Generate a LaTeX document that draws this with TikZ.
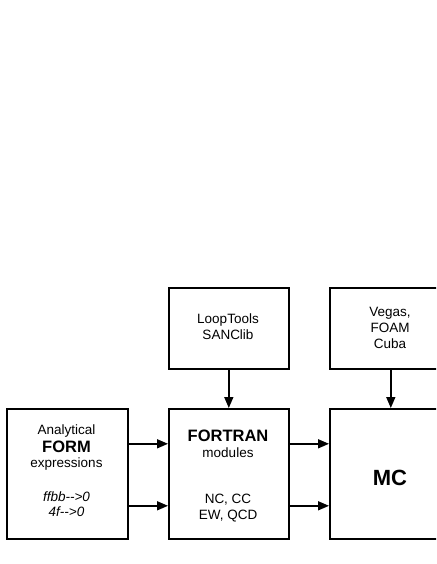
\documentclass[tikz,border=0pt]{standalone}
\usepackage{fontspec}
\setmainfont{Liberation Sans}
\usetikzlibrary{arrows.meta}
\begin{document}
\begin{tikzpicture}[x=1pt,y=-1pt,
  box/.style={draw,line width=1.6pt,anchor=north west,inner sep=0pt},
  conn/.style={line width=1.6pt,-{Triangle[length=11pt,width=9pt]}},
  txt/.style={font=\fontsize{13.5}{16}\selectfont,align=center,inner sep=0pt},
  big/.style={font=\fontsize{16.5}{18}\selectfont\bfseries,inner sep=0pt}]
\useasboundingbox (0,0) rectangle (436,564);
\clip (0,0) rectangle (436,564);
% boxes
\node[box,minimum width=121pt,minimum height=130pt] (ana) at (6,408) {};
\node[box,minimum width=120pt,minimum height=130pt] (fort) at (168,408) {};
\node[box,minimum width=122pt,minimum height=130pt] (mc) at (329,408) {};
\node[box,minimum width=120pt,minimum height=81pt] (loop) at (168,287) {};
\node[box,minimum width=122pt,minimum height=81pt] (vegas) at (329,287) {};
% texts
\node[txt] (t1) at (66.5,431) {Analytical};
\node[big] (t2) at (66.5,447) {FORM};
\node[txt] (t3) at (66.5,464) {expressions};
\node[txt,font=\fontsize{13.5}{15}\selectfont\itshape] (t4) at (66.5,504) {ffbb-{}->0\\4f-{}->0};
\node[big] (t5) at (228,436) {FORTRAN};
\node[txt] (t6) at (228,453) {modules};
\node[txt] (t7) at (228,508) {NC, CC\\EW, QCD};
\node[txt] (t8) at (228,327) {LoopTools\\SANClib};
\node[txt] (t9) at (390,328) {Vegas,\\FOAM\\Cuba};
\node[font=\fontsize{22}{24}\selectfont\bfseries,inner sep=0pt] (t10) at (390,478) {MC};
% connectors
\draw[conn] ([yshift=30pt]ana.east) -- ([yshift=30pt]fort.west);
\draw[conn] ([yshift=-32pt]ana.east) -- ([yshift=-32pt]fort.west);
\draw[conn] ([yshift=30pt]fort.east) -- ([yshift=30pt]mc.west);
\draw[conn] ([yshift=-32pt]fort.east) -- ([yshift=-32pt]mc.west);
\draw[conn] (loop.south) -- (fort.north);
\draw[conn] (vegas.south) -- (mc.north);
\end{tikzpicture}
\end{document}
